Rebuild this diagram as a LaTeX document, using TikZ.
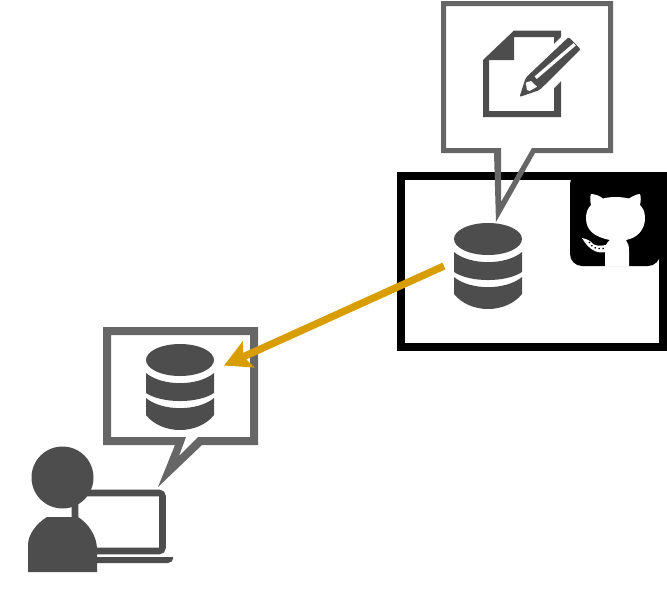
\documentclass[tikz,border=0pt]{standalone}
\usetikzlibrary{arrows.meta}
\definecolor{icongray}{HTML}{4D4D4D}
\definecolor{bubblegray}{HTML}{666666}
\definecolor{pushgold}{HTML}{D89E00}
\tikzset{
	dbnode/.style={inner sep=0pt, outer sep=0pt, minimum width=66pt, minimum height=65pt},
	iconfill/.style={fill=icongray, draw=none},
	bubble/.style={fill=bubblegray, draw=none, even odd rule},
	fetcharrow/.style={draw=pushgold, line width=5.5pt, -{Stealth[length=20pt, width=21pt, inset=4pt]}}
}
\newcommand{\dbicon}[2]{
	\begin{scope}[shift={(#1,#2)}]
		\fill[iconfill] (0,16) ellipse [x radius=34, y radius=16];
		\fill[iconfill] (-34,29) .. controls (-18,42.5) and (18,42.5) .. (34,29) -- (34,49) .. controls (18,59.7) and (-18,59.7) .. (-34,49) -- cycle;
		\fill[iconfill] (-34,54) .. controls (-18,67.5) and (18,67.5) .. (34,54) -- (34,71) .. controls (18,91) and (-18,91) .. (-34,71) -- cycle;
	\end{scope}
}
\begin{document}
\begin{tikzpicture}[x=0.75pt, y=-0.75pt]
		\useasboundingbox (0,0) rectangle (667,600);

		\draw[line width=6pt] (400.5,175.5) rectangle (663,347);
		\fill[rounded corners=9pt] (570,172) -- (570,266) -- (660,266) -- (660,172) -- cycle;
		\fill[white] (605,266.5) -- (605,250) .. controls (605,246) and (607,242) .. (610,240)
			.. controls (594,237) and (586,230) .. (586,218) .. controls (586,212) and (588,208) .. (591,205)
			.. controls (590,201) and (590,197) .. (591,194) .. controls (595,194) and (600,196) .. (603,198.5)
			.. controls (611,196.5) and (620,196.5) .. (629,198.5) .. controls (633,196) and (637,194) .. (640,194)
			.. controls (641,197) and (641,201) .. (640,205) .. controls (643,208) and (645,212) .. (645,218)
			.. controls (645,230) and (637,238) .. (626,240) .. controls (628,243) and (629,246) .. (629,250)
			-- (629,266.5) -- cycle;
		\fill[white] (582,238) .. controls (587,239) and (591,241) .. (593,244) .. controls (596,246) and (600,246) .. (606,245)
			-- (606,252) .. controls (597,254) and (589,250) .. (582,238) -- cycle;
		\draw[black, line width=1pt, dotted] (589,242) .. controls (592,248) and (597,249) .. (604,248.5);

		\fill[bubble] (441,1) -- (613,1) -- (613,153) -- (535,153) -- (496,222) -- (494,153) -- (441,153) -- cycle
			(446,6) -- (608,6) -- (608,148) -- (532,148) -- (501,202) -- (501,148) -- (446,148) -- cycle;
		\fill[bubble] (103,327) -- (258,327) -- (258,445) -- (202,445) -- (158,487) -- (175,445) -- (103,445) -- cycle
			(111,335) -- (250,335) -- (250,437) -- (198,437) -- (179,456) -- (186,437) -- (111,437) -- cycle;

		\fill[iconfill, even odd rule] (514,30.5) -- (561,30.5) -- (561,117) -- (483,117) -- (483,60) -- cycle
			(514,37) -- (554,37) -- (554,111) -- (489,111) -- (489,60) -- (514,60) -- cycle;
		\fill[white] (563,35) -- (550,48) -- (550,92) -- (565,77) -- cycle;
		\fill[iconfill, rounded corners=1.5pt] (519.5,97) -- (525.7,77.7) -- (568.7,37) -- (580.7,49.3) -- (539.7,90) -- cycle;
		\draw[white, line width=2.5pt] (535.7,77.7) -- (574.7,44.3);
		\fill[white] (525.7,82.7) -- (531,81) -- (537,86.7) -- (529.7,91) -- (527,90) -- cycle;

		\dbicon{488}{223}
		\dbicon{180}{344}
		\node[dbnode] (repodb) at (488,266) {};
		\node[dbnode] (localdb) at (180,387) {};
		\draw[fetcharrow] (repodb.west) -- (localdb.26.6);

		\draw[icongray, line width=4.9pt, rounded corners=2.5pt] (75,493) rectangle (162.5,551);
		\fill[iconfill] (62.5,477.5) circle [radius=31];
		\fill[iconfill] (28,572) -- (28,545) .. controls (28,534) and (37,523) .. (47,517) -- (78,517)
			.. controls (88,523) and (97,536) .. (97,549) -- (97,572) -- cycle;
		\fill[iconfill] (97,557) -- (173,557) .. controls (173,561) and (171,563) .. (168,563) -- (97,563) -- cycle;
\end{tikzpicture}
\end{document}
